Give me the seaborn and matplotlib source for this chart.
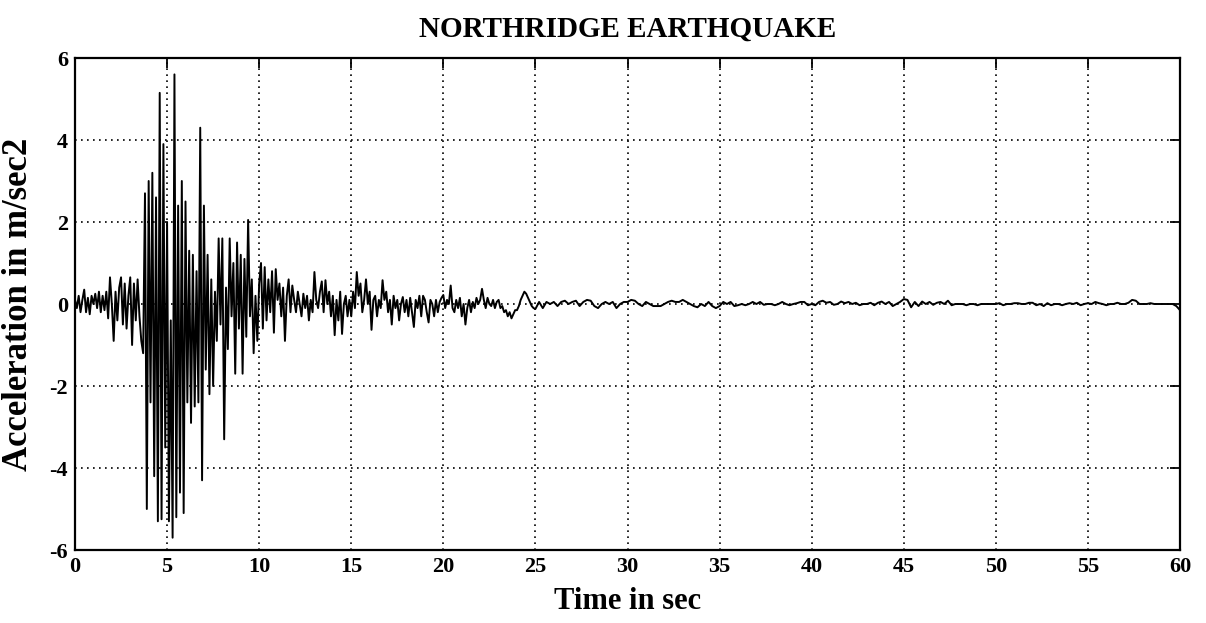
import numpy as np
import pandas as pd
import matplotlib
matplotlib.use("Agg")
import matplotlib.pyplot as plt
import seaborn as sns

# Ground acceleration (m/sec^2), sampled every 0.1 s from t = 0 to t = 24.9 s
accel_strong = [
    0.1, -0.1, 0.2, -0.2, 0.1, 0.35, -0.2, 0.15, -0.25, 0.2,
    0.0, 0.25, -0.1, 0.3, -0.2, 0.2, -0.15, 0.3, -0.35, 0.65,
    0.0, -0.9, 0.3, -0.4, 0.4, 0.65, -0.5, 0.5, -0.6, 0.2,
    0.65, -1.0, 0.5, -0.4, 0.6, -0.3, -0.9, -1.2, 2.7, -5.0,
    3.0, -2.4, 3.2, -4.2, 2.6, -5.3, 5.15, -5.25, 3.9, -3.5,
    2.0, -5.3, -0.4, -5.7, 5.6, -5.2, 2.4, -4.6, 3.0, -5.1,
    2.5, -2.4, 1.3, -2.9, 1.2, -2.5, 0.8, -2.4, 4.3, -4.3,
    2.4, -1.6, 1.2, -2.2, 0.6, -2.0, 0.3, -0.9, 1.6, -0.5,
    1.6, -3.3, 0.4, -1.1, 1.6, -0.3, 1.0, -1.7, 1.5, -0.6,
    1.2, -1.7, 1.1, -0.8, 2.05, -0.3, 0.6, -1.2, 0.2, -0.9,
    0.5, 1.0, -0.6, 0.9, -0.4, 0.6, -0.2, 0.8, -0.7, 0.85,
    0.1, 0.5, -0.3, 0.4, -0.9, 0.2, 0.6, -0.2, 0.45, 0.1,
    -0.2, 0.3, 0.0, -0.3, 0.25, -0.1, 0.2, -0.4, 0.1, -0.2,
    0.78, 0.1, -0.1, 0.3, 0.55, -0.2, 0.58, 0.0, 0.3, -0.3,
    0.2, -0.76, 0.1, -0.4, 0.3, -0.73, 0.0, 0.2, -0.3, 0.1,
    -0.3, 0.3, -0.1, 0.78, 0.2, 0.5, -0.2, 0.1, 0.6, 0.0,
    0.3, -0.63, 0.1, 0.2, -0.3, 0.1, -0.1, 0.58, 0.1, 0.3,
    -0.2, 0.1, -0.5, 0.2, -0.1, 0.1, -0.4, 0.0, 0.17, -0.2,
    0.1, -0.3, 0.15, -0.2, -0.56, 0.1, -0.1, 0.2, -0.3, 0.2,
    0.1, -0.2, -0.45, 0.1, 0.0, -0.3, 0.1, -0.2, 0.05, 0.15,
    0.22, -0.1, 0.1, 0.0, 0.45, -0.1, -0.2, 0.1, -0.1, 0.15,
    -0.3, 0.0, -0.5, -0.1, 0.1, -0.2, 0.05, -0.1, 0.15, 0.0,
    0.1, 0.37, 0.1, -0.1, 0.15, 0.0, -0.05, 0.1, -0.1, 0.05,
    0.1, -0.1, -0.05, -0.2, -0.15, -0.3, -0.2, -0.35, -0.25, -0.15,
    -0.15, -0.05, 0.1, 0.2, 0.3, 0.25, 0.15, 0.05, -0.05, -0.1,
]

# Coda, sampled every 0.2 s from t = 25 s to t = 60 s
accel_coda = [
    -0.12, 0.05, -0.1, 0.05, 0.0,
    0.05, -0.05, 0.05, 0.08, 0.0,
    0.05, 0.08, -0.05, 0.05, 0.1, 0.08, -0.05, -0.1, 0.0, 0.05,
    0.0, 0.05, -0.1, 0.0, 0.05, 0.05, 0.1, 0.08, 0.0, -0.05,
    0.05, 0.0, -0.05, -0.05, -0.05,
    0.0, 0.05, 0.08, 0.05, 0.05, 0.1, 0.05, 0.0, -0.05, -0.08,
    0.0, -0.05, 0.05, -0.05, -0.1, -0.05, 0.05, 0.0, 0.05, -0.05,
    -0.03, 0.0, -0.03, 0.0, 0.05,
    0.0, 0.05, -0.02, 0.0, 0.0, -0.03, 0.0, 0.05, 0.0, -0.03,
    0.0, 0.02, 0.05, 0.05, -0.03, 0.0, -0.03, 0.05, 0.08, 0.03,
    0.05, -0.02, 0.0, 0.06, 0.02,
    0.05, 0.0, 0.03, -0.03, 0.0, 0.0, 0.03, -0.03, 0.03, 0.06,
    0.0, 0.05, -0.05, 0.0, 0.05, 0.12, 0.1, -0.08, 0.05, -0.05,
    0.06, 0.0, 0.05, -0.02, 0.03,
    0.05, 0.0, 0.08, -0.03, 0.0, 0.0, 0.0, -0.03, 0.0, 0.0,
    -0.03, 0.0, 0.0, 0.0, 0.0, 0.0, 0.02, -0.03, 0.0, 0.0,
    0.02, 0.02, 0.0, 0.0, 0.03,
    0.03, -0.03, 0.0, -0.05, 0.02, -0.03, 0.0, 0.0, -0.03, 0.0,
    0.02, 0.0, 0.03, -0.03, 0.0, 0.02, 0.0, 0.05, 0.02, 0.0,
    -0.03, 0.0, 0.0, 0.03, 0.0,
    0.0, 0.03, 0.1, 0.08, 0.0, 0.0, 0.0, 0.02, 0.0, 0.0,
    0.0, 0.0, 0.0, 0.0, -0.05, -0.15,
]

dt_strong = 0.1
dt_coda = 0.2
t_coda_start = 25.0

x_ticks = [0, 5, 10, 15, 20, 25, 30, 35, 40, 45, 50, 55, 60]
y_ticks = [-6, -4, -2, 0, 2, 4, 6]
y_tick_labels = ["-6", "-4", "-2", "0", "2", "4", "6"]

title_text = "NORTHRIDGE EARTHQUAKE"
x_label = "Time in sec"
y_label = "Acceleration in m/sec2"

t_strong = np.arange(len(accel_strong)) * dt_strong
t_coda = t_coda_start + np.arange(len(accel_coda)) * dt_coda
df = pd.DataFrame({
    "time": np.concatenate([t_strong, t_coda]),
    "accel": np.concatenate([accel_strong, accel_coda]),
})

sns.set_theme(style="white")
plt.rcParams["font.family"] = ["Liberation Serif", "DejaVu Serif"]
plt.rcParams["font.weight"] = "bold"
plt.rcParams["text.color"] = "black"
plt.rcParams["axes.labelcolor"] = "black"
plt.rcParams["xtick.color"] = "black"
plt.rcParams["ytick.color"] = "black"

W, H = 1206, 623
fig = plt.figure(figsize=(W / 100, H / 100), dpi=100)
fig.patch.set_facecolor("white")
ax = fig.add_axes([75 / W, 1 - 550 / H, (1180 - 75) / W, (550 - 58) / H])
ax.set_facecolor("white")

sns.lineplot(data=df, x="time", y="accel", color="black", linewidth=1.4,
             estimator=None, sort=False, ax=ax)

ax.set_xlim(0, 60)
ax.set_ylim(-6, 6)
ax.set_xticks(x_ticks)
ax.set_xticklabels([str(v) for v in x_ticks])
ax.set_yticks(y_ticks)
ax.set_yticklabels(y_tick_labels)

ax.grid(True, color="black", linestyle=(0, (1, 2.6)), linewidth=1.2)
ax.tick_params(direction="in", length=7, width=1.3, top=True, right=True,
               labelsize=16, pad=5, colors="black")
for s in ax.spines.values():
    s.set_visible(True)
    s.set_color("black")
    s.set_linewidth(1.6)

ax.set_title(title_text, fontsize=21, fontweight="bold", pad=15, color="black")
ax.set_xlabel(x_label, fontsize=22, fontweight="bold", color="black")
ax.set_ylabel(y_label, fontsize=25, fontweight="bold", color="black")
ax.xaxis.set_label_coords(0.5, -0.075)
ax.yaxis.set_label_coords(-0.036, 0.5)

fig.savefig("out.png", dpi=100, facecolor="white")
